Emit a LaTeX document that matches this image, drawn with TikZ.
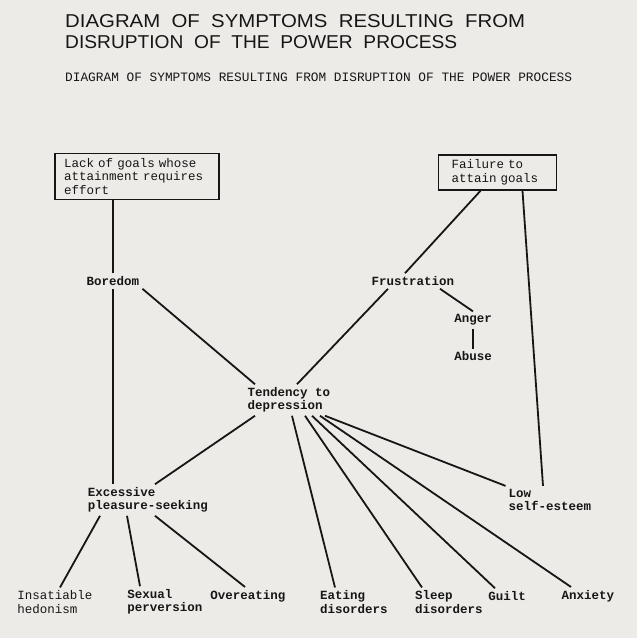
\documentclass[tikz,border=0pt]{standalone}
\usepackage{fontspec}
\setmainfont{Liberation Sans}
\setmonofont{Liberation Mono}
\usepackage{graphicx}
\usetikzlibrary{positioning}

\definecolor{paper}{RGB}{236,235,231}
\definecolor{ink}{RGB}{22,22,22}

\tikzset{
  typed/.style={font=\ttfamily\fontsize{12.5}{13.5}\selectfont, align=left, inner sep=3pt, text=ink},
  symptom/.style={typed, font=\ttfamily\bfseries\fontsize{12.5}{13.5}\selectfont},
  goalbox/.style={typed, draw=ink, line width=1.4pt, inner xsep=9pt, inner ysep=5pt},
  link/.style={draw=ink, line width=1.8pt},
}

\begin{document}
\begin{tikzpicture}[x=1pt, y=-1pt]
  \useasboundingbox (0,0) rectangle (637,638);
  \fill[paper] (0,0) rectangle (637,638);

  % titles
  \node[anchor=west, inner sep=0pt, text=ink] (hand1) at (65,21)
    {\resizebox{460pt}{13pt}{DIAGRAM\ \ OF\ \ SYMPTOMS\ \ RESULTING\ \ FROM}};
  \node[anchor=west, inner sep=0pt, text=ink] (hand2) at (65,42)
    {\resizebox{392pt}{13pt}{DISRUPTION\ \ OF\ \ THE\ \ POWER\ \ PROCESS}};
  \node[typed, anchor=west, inner sep=0pt, font=\ttfamily\fontsize{12.8}{13.5}\selectfont] (typedtitle) at (65,77)
    {DIAGRAM OF SYMPTOMS RESULTING FROM DISRUPTION OF THE POWER PROCESS};

  % causes
  \node[goalbox, text width=146pt] (goals) at (137,176.5)
    {Lack of goals whose\\attainment requires\\effort};
  \node[goalbox, text width=92pt, inner xsep=13pt] (fail) at (497.5,172.5)
    {Failure to\\attain goals};

  % symptoms
  \node[symptom] (boredom) at (113,281) {Boredom};
  \node[symptom] (frust) at (413,281) {Frustration};
  \node[symptom] (anger) at (473,320) {Anger};
  \node[symptom, below=20pt of anger] (abuse) {Abuse};
  \node[symptom] (tend) at (289,400) {Tendency to\\depression};
  \node[symptom] (excess) at (148,500) {Excessive\\pleasure-seeking};
  \node[symptom] (lowse) at (550,500) {Low\\self-esteem};

  \node[typed] (insat) at (55,602) {Insatiable\\hedonism};
  \node[symptom] (sexual) at (165,602) {Sexual\\perversion};
  \node[symptom] (overeat) at (248,596) {Overeating};
  \node[symptom] (eating) at (354,602) {Eating\\disorders};
  \node[symptom] (sleep) at (449,602) {Sleep\\disorders};
  \node[symptom] (guilt) at (507,596) {Guilt};
  \node[symptom] (anxiety) at (588,596) {Anxiety};

  % connectors
  \draw[link] (goals.south -| boredom.north) -- (boredom.north);
  \draw[link] (boredom.south) -- (boredom.south |- excess.north);
  \draw[link] (boredom.south east) -- ([xshift=-34pt]tend.north);
  \draw[link] ([xshift=-17pt]fail.south) -- ([xshift=-8pt]frust.north);
  \draw[link] ([xshift=25pt]fail.south) -- ([xshift=-7pt]lowse.north);
  \draw[link] ([xshift=-25pt]frust.south) -- ([xshift=8pt]tend.north);
  \draw[link] ([xshift=27pt]frust.south) -- (anger.north);
  \draw[link] (anger.south) -- (abuse.north);
  \draw[link] ([xshift=-34pt]tend.south) -- ([xshift=7pt]excess.north);
  \draw[link] ([xshift=3pt]tend.south) -- ([xshift=-19pt]eating.north);
  \draw[link] ([xshift=16pt]tend.south) -- ([xshift=-27pt]sleep.north);
  \draw[link] ([xshift=23pt]tend.south) -- ([xshift=-12pt]guilt.north);
  \draw[link] ([xshift=31pt]tend.south) -- ([xshift=-17pt]anxiety.north);
  \draw[link] ([xshift=36pt]tend.south) -- (lowse.north west);
  \draw[link] ([xshift=-48pt]excess.south) -- ([xshift=5pt]insat.north);
  \draw[link] ([xshift=-21pt]excess.south) -- ([xshift=-25pt]sexual.north);
  \draw[link] ([xshift=7pt]excess.south) -- ([xshift=-3pt]overeat.north);
\end{tikzpicture}
\end{document}
